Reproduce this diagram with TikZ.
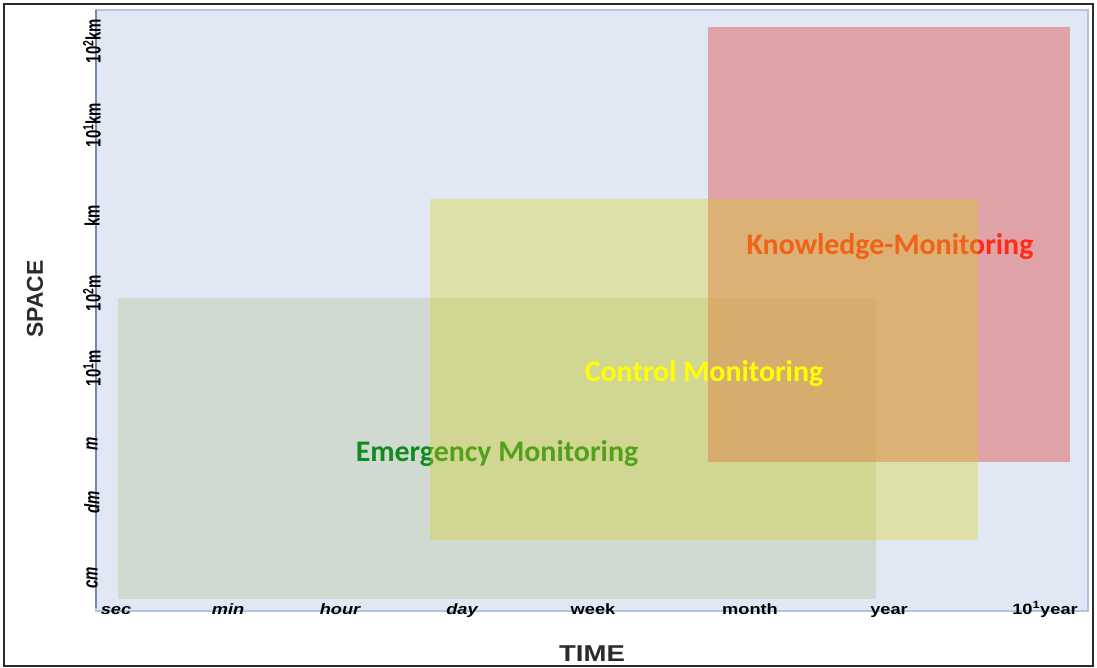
\documentclass[tikz,border=0pt]{standalone}
\usepackage{fontspec}
\setmainfont{Liberation Sans}
\newfontfamily\calibri{Carlito}
\usetikzlibrary{positioning}
\definecolor{fondo}{HTML}{E1E8F3}
\definecolor{bordefondo}{HTML}{AFC5E3}
\definecolor{eje}{HTML}{6F8BB3}
\definecolor{marco}{HTML}{2B2B2B}
\definecolor{gris}{HTML}{D0DAD1}
\definecolor{verde}{HTML}{128A1E}
\definecolor{amarillo}{HTML}{D6D113}
\definecolor{rojo}{HTML}{DC6A6A}
\definecolor{rojotexto}{HTML}{FF2A18}
\definecolor{amarillotexto}{HTML}{FFFF00}

% etiqueta vertical, algo ensanchada
\newcommand{\ancho}[1]{\scalebox{1}[1.4]{#1}}

\begin{document}
\begin{tikzpicture}[
  x=1bp, y=-1bp,
  ylbl/.style={rotate=90, font=\fontsize{15}{15}\selectfont\bfseries, inner sep=0pt},
  ylbli/.style={ylbl, font=\fontsize{15}{15}\selectfont\bfseries\itshape},
  xlbl/.style={font=\fontsize{15}{15}\selectfont\bfseries, xscale=1.22, inner sep=0pt, anchor=base},
  xlbli/.style={xlbl, font=\fontsize{15}{15}\selectfont\bfseries\itshape},
  zonelbl/.style={font=\calibri\fontsize{30}{30}\selectfont\bfseries, inner sep=0pt},
  titlelbl/.style={font=\fontsize{23}{23}\selectfont\bfseries, text=marco, inner sep=0pt},
]
\useasboundingbox (0,0) rectangle (1097,668);

% --- Marco exterior ---
\draw[marco, line width=1.6bp] (4,4) rectangle (1093,666);

% --- Area del grafico ---
\draw[fill=fondo, draw=bordefondo, line width=1.5bp] (96,10) rectangle (1088,611);
\draw[eje, line width=2bp] (96,10) -- (96,608);

% --- Zonas (la de control va encima, translucida) ---
\fill[gris] (118,298) rectangle (876,599);
\node[zonelbl, text=verde] (emer) at (497,454) {Emergency Monitoring};
\fill[rojo, fill opacity=0.55] (708,27) rectangle (1070,462);
\node[zonelbl, text=rojotexto] (know) at (890,247) {Knowledge-Monitoring};
\fill[amarillo, fill opacity=0.33] (430,199) rectangle (978,540);
\node[zonelbl, text=amarillotexto] (ctrl) at (704,374) {Control Monitoring};

% --- Escala de espacio ---
\node[ylbl]  (km3) at (92,41)  {\ancho{10\textsuperscript{2}km}};
\node[ylbl]  (km1) at (92,125) {\ancho{10\textsuperscript{1}km}};
\node[ylbl]  (km)  at (92,216) {\ancho{km}};
\node[ylbl]  (m2)  at (92,293) {\ancho{10\textsuperscript{2}m}};
\node[ylbl]  (m1)  at (92,368) {\ancho{10\textsuperscript{1}m}};
\node[ylbli] (m)   at (92,444) {\ancho{m}};
\node[ylbli] (dm)  at (92,502) {\ancho{dm}};
\node[ylbli] (cm)  at (92,578) {\ancho{cm}};

% --- Escala de tiempo ---
\node[xlbli] (sec)  at (116,614) {sec};
\node[xlbli] (min)  at (228,614) {min};
\node[xlbli] (hour) at (340,614) {hour};
\node[xlbli] (day)  at (462,614) {day};
\node[xlbl] (week)  at (593,614) {week};
\node[xlbl] (month) at (750,614) {month};
\node[xlbl] (year)  at (889,614) {year};
\node[xlbl] (dec)   at (1045,614) {10\textsuperscript{1}year};

% --- Titulos de los ejes ---
\node[titlelbl, rotate=90] (space) at (35,299) {SPACE};
\node[titlelbl, xscale=1.2] (time) at (592,654) {TIME};

\end{tikzpicture}
\end{document}
